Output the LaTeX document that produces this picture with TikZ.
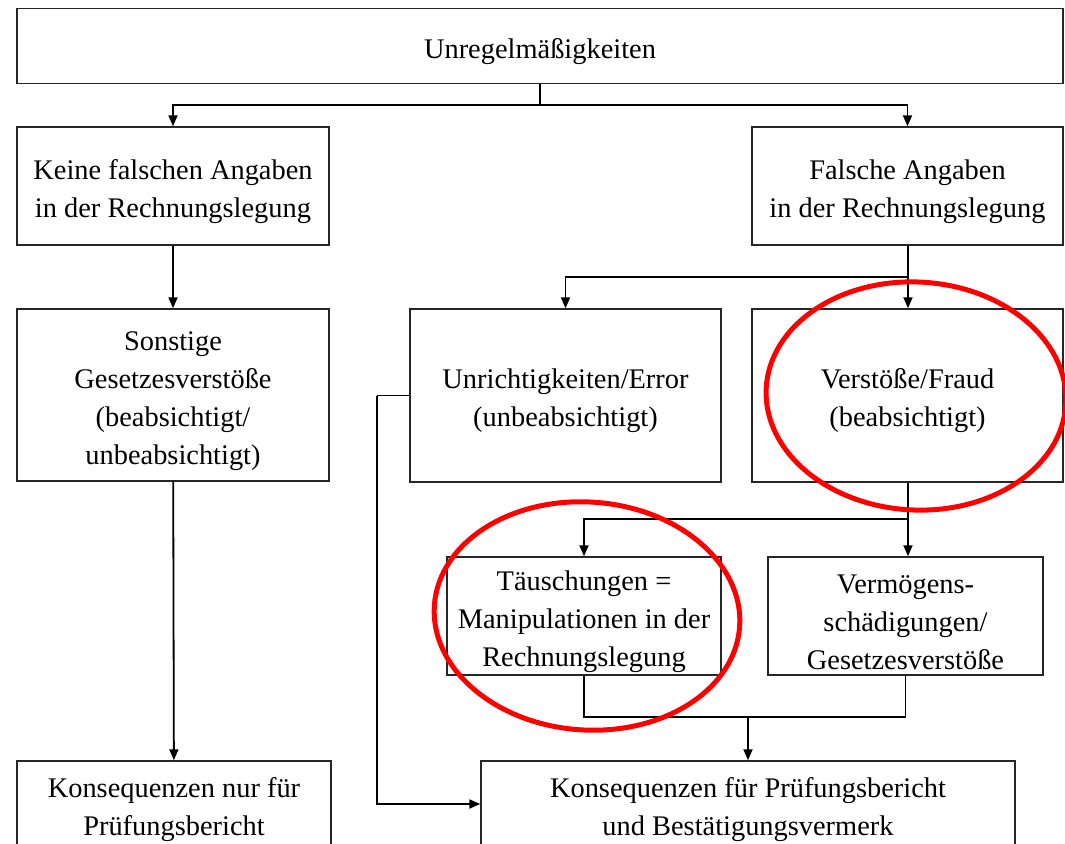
\documentclass[tikz,border=0pt]{standalone}
\usepackage{fontspec}
\setmainfont{Liberation Serif}
\usepackage{tikz}
\usetikzlibrary{arrows.meta, positioning, calc}

\begin{document}
\begin{tikzpicture}[
    x=1pt, y=-1pt,
    box/.style={draw=black!85, line width=1.4pt, inner sep=0pt, align=flush center, text width=#1, minimum width=#1,
        font=\fontsize{28.4pt}{38pt}\selectfont, execute at begin node={\rule{0pt}{31pt}}},
    line/.style={line width=1.8pt},
    arrow/.style={line width=1.8pt, -{Triangle[length=11pt, width=9pt]}},
    ring/.style={draw=red, line width=5pt}
]
    \useasboundingbox (0,0) rectangle (1065,843);

    % Ebene 1
    \node[box=1046pt, minimum height=75pt] (unreg) at (540,46) {Unregelmäßigkeiten};

    % Ebene 2
    \node[box=312pt, minimum height=118pt] (keine) at (173,186) {Keine falschen Angaben\\in der Rechnungslegung};
    \node[box=311pt, minimum height=118pt] (falsch) at (907.5,186) {Falsche Angaben\\in der Rechnungslegung};

    % Ebene 3
    \node[box=312pt, minimum height=172pt] (sonst) at (173,395) {Sonstige\\Gesetzesverstöße\\(beabsichtigt/\\unbeabsichtigt)};
    \node[box=311pt, minimum height=173pt] (error) at (565.5,395.5) {Unrichtigkeiten/Error\\(unbeabsichtigt)};
    \node[box=311pt, minimum height=173pt] (fraud) at (907.5,395.5) {Verstöße/Fraud\\(beabsichtigt)};

    % Ebene 4
    \node[box=274pt, minimum height=118pt] (taeusch) at (584,616) {Täuschungen =\\Manipulationen in der\\Rechnungslegung};
    \node[box=275pt, minimum height=118pt] (vermoeg) at (905.5,616) {Vermögens-\\schädigungen/\\Gesetzesverstöße};

    % Ebene 5
    \node[box=314pt, minimum height=86pt] (konsA) at (174,804) {Konsequenzen nur für\\Prüfungsbericht};
    \node[box=534pt, minimum height=86pt] (konsB) at (748,804) {Konsequenzen für Prüfungsbericht\\und Bestätigungsvermerk};

    % Verbindungen
    \coordinate (j1) at (540,105);
    \coordinate (j2) at (908,277);
    \coordinate (j3) at (908,519);
    \coordinate (j4) at (748,717);
    \coordinate (j5) at (377,395.5);

    \draw[line] (unreg.south) -- (j1);
    \draw[arrow] (j1) -| (keine.north);
    \draw[arrow] (j1) -| (falsch.north);
    \draw[arrow] (keine) -- (sonst);
    \draw[arrow] (sonst) -- (konsA);

    \draw[line] (falsch.south -| j2) -- (j2);
    \draw[arrow] (j2) -| (error.north);
    \draw[arrow] (j2) -- (j2 |- fraud.north);

    \draw[line] (fraud.south -| j3) -- (j3);
    \draw[arrow] (j3) -| (taeusch.north);
    \draw[arrow] (j3) -- (j3 |- vermoeg.north);

    \draw[line] (taeusch.south) |- (j4) -| (vermoeg.south);
    \draw[arrow] (j4) -- (konsB.north);

    \draw[line] (error.west) -- (j5);
    \draw[arrow] (j5) |- (konsB.west);

    % Markierungen
    \draw[ring] (916,396) ellipse [x radius=150pt, y radius=114pt, rotate=-3];
    \draw[ring] (587,616) ellipse [x radius=153pt, y radius=114pt, rotate=-4];
\end{tikzpicture}
\end{document}
